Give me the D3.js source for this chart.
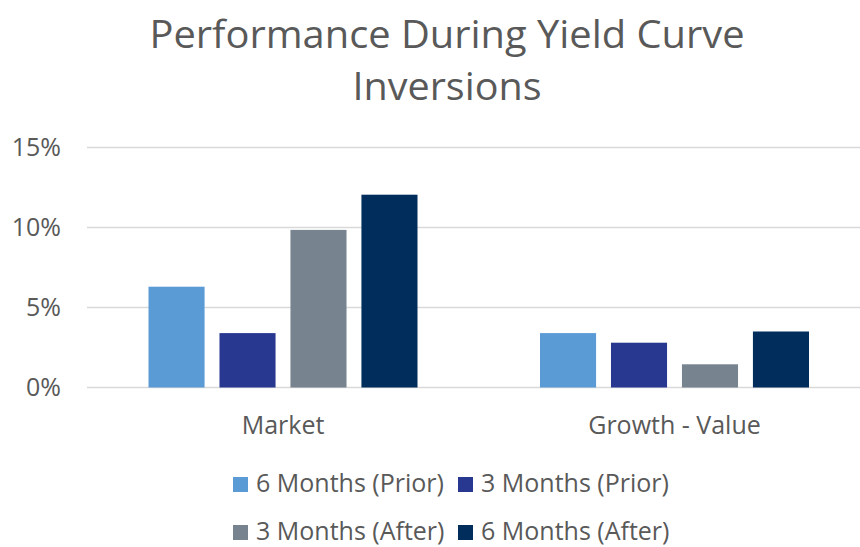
<!DOCTYPE html>
<html>
<head>
<meta charset="utf-8">
<script src="https://cdn.jsdelivr.net/npm/d3@7"></script>
<style>
  body { margin: 0; background: #fff; }
  text { font-family: "Open Sans", sans-serif; fill: #595959; }
</style>
</head>
<body>
<div id="chart"></div>
<script>
// data
var categories = ["Market", "Growth - Value"];
var seriesNames = ["6 Months (Prior)", "3 Months (Prior)", "3 Months (After)", "6 Months (After)"];
var seriesColors = ["#5b9bd5", "#283891", "#77848f", "#002d5c"];
var prior6 = [6.3, 3.4];
var prior3 = [3.4, 2.8];
var after3 = [9.85, 1.45];
var after6 = [12.05, 3.5];
var yTicks = [0, 5, 10, 15];

var seriesValues = [prior6, prior3, after3, after6];

// svg area
var svgWidth = 860;
var svgHeight = 547;

var svg = d3.select("#chart")
    .append("svg")
    .attr("width", svgWidth)
    .attr("height", svgHeight);

// scales
var x0 = d3.scaleBand()
    .domain(categories)
    .range([87, 870])
    .padding(0);

var x1 = d3.scaleBand()
    .domain(seriesNames)
    .range([61.5, 330.5])
    .paddingInner(0.21)
    .paddingOuter(0);

var y = d3.scaleLinear()
    .domain([0, 15])
    .range([387.5, 147.5]);

// gridlines
svg.append("g")
    .selectAll("line")
    .data(yTicks)
    .enter()
    .append("line")
    .attr("x1", 87)
    .attr("x2", 860)
    .attr("y1", d => y(d))
    .attr("y2", d => y(d))
    .attr("stroke", "#d9d9d9")
    .attr("stroke-width", 1.5);

// y axis labels
var yAxis = d3.axisLeft(y)
    .tickValues(yTicks)
    .tickFormat(d => d + "%")
    .tickSize(0)
    .tickPadding(0);

var yAxisGroup = svg.append("g")
    .attr("transform", "translate(61, 0)")
    .call(yAxis);
yAxisGroup.select(".domain").remove();
yAxisGroup.selectAll("text")
    .attr("font-size", 25)
    .attr("dy", "0.31em")
    .style("fill", "#595959")
    .style("font-family", "'Open Sans', sans-serif");

// bars
var groups = svg.append("g")
    .selectAll("g")
    .data(categories)
    .enter()
    .append("g")
    .attr("transform", d => `translate(${x0(d)}, 0)`);

groups.selectAll("rect")
    .data((c, i) => seriesNames.map((s, j) => ({ series: s, value: seriesValues[j][i], color: seriesColors[j] })))
    .enter()
    .append("rect")
    .attr("x", d => x1(d.series))
    .attr("y", d => y(d.value))
    .attr("width", x1.bandwidth())
    .attr("height", d => y(0) - y(d.value))
    .attr("fill", d => d.color);

// category labels
svg.append("g")
    .selectAll("text")
    .data(categories)
    .enter()
    .append("text")
    .attr("x", d => x0(d) + (x1.range()[0] + x1.range()[1]) / 2)
    .attr("y", 434)
    .attr("text-anchor", "middle")
    .attr("font-size", 25)
    .text(d => d);

// title
svg.append("text")
    .attr("x", 447)
    .attr("y", 48)
    .attr("text-anchor", "middle")
    .attr("font-size", 38)
    .attr("textLength", 595)
    .attr("lengthAdjust", "spacingAndGlyphs")
    .text("Performance During Yield Curve");

svg.append("text")
    .attr("x", 447)
    .attr("y", 100)
    .attr("text-anchor", "middle")
    .attr("font-size", 38)
    .attr("textLength", 189)
    .attr("lengthAdjust", "spacingAndGlyphs")
    .text("Inversions");

// legend
var legendPos = [[233, 477], [458, 477], [233, 525], [458, 525]];

var legend = svg.append("g")
    .selectAll("g")
    .data(seriesNames)
    .enter()
    .append("g")
    .attr("transform", (d, i) => `translate(${legendPos[i][0]}, ${legendPos[i][1]})`);

legend.append("rect")
    .attr("width", 15)
    .attr("height", 15)
    .attr("fill", (d, i) => seriesColors[i]);

legend.append("text")
    .attr("x", 23)
    .attr("y", 15)
    .attr("font-size", 25)
    .text(d => d);
</script>
</body>
</html>
